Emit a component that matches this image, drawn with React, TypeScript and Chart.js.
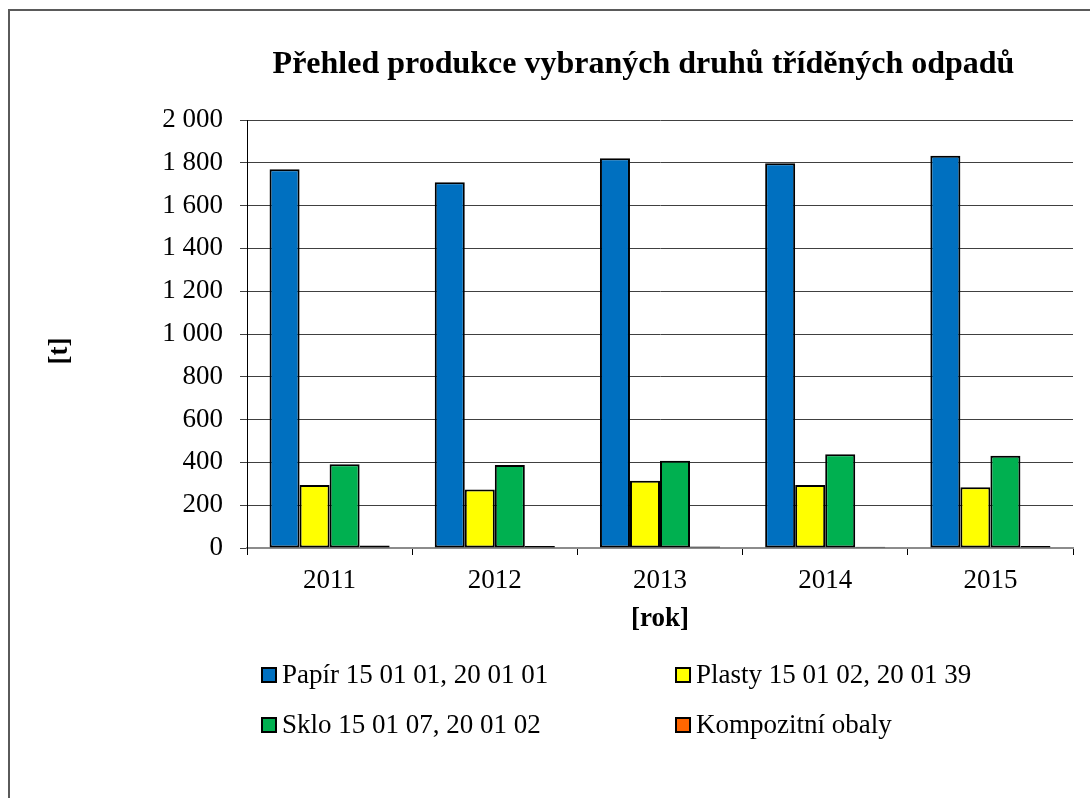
import React, { useEffect, useRef } from 'react';
import { Chart, registerables } from 'chart.js';

Chart.register(...registerables);

const years = ['2011', '2012', '2013', '2014', '2015'];
const papir = [1770, 1709, 1821, 1798, 1833];
const plasty = [294, 273, 314, 294, 284];
const sklo = [391, 388, 408, 438, 431];
const kompozit = [12, 9, 7, 6, 9];

const seriesLabels = [
  'Papír 15 01 01, 20 01 01',
  'Plasty 15 01 02, 20 01 39',
  'Sklo 15 01 07, 20 01 02',
  'Kompozitní obaly',
];
const seriesColors = ['#0070C0', '#FFFF00', '#00B050', '#FF6600'];

const titleText = 'Přehled produkce vybraných druhů tříděných odpadů';
const yTitle = '[t]';
const xTitle = '[rok]';

const FONT = '"Liberation Serif", "Times New Roman", serif';

const formatThousands = (v: number) => {
  if (v >= 1000) {
    return `${Math.floor(v / 1000)} ${String(v % 1000).padStart(3, '0')}`;
  }
  return String(v);
};

const decorPlugin = {
  id: 'decor',
  afterDraw(chart: any) {
    const ctx = chart.ctx as CanvasRenderingContext2D;
    const ca = chart.chartArea;
    ctx.save();
    // outer frame
    ctx.strokeStyle = '#5a5a5a';
    ctx.lineWidth = 2;
    ctx.beginPath();
    ctx.moveTo(9, 800);
    ctx.lineTo(9, 10);
    ctx.lineTo(1092, 10);
    ctx.stroke();

    ctx.fillStyle = '#000';
    ctx.textAlign = 'center';
    ctx.textBaseline = 'alphabetic';
    ctx.font = `bold 32px ${FONT}`;
    ctx.fillText(titleText, 643.5, 73);

    ctx.font = `bold 27px ${FONT}`;
    ctx.fillText(xTitle, (ca.left + ca.right) / 2, 626);

    ctx.save();
    ctx.translate(60, 351);
    ctx.rotate(-Math.PI / 2);
    ctx.textBaseline = 'middle';
    ctx.fillText(yTitle, 0, 0);
    ctx.restore();

    // legend (two columns)
    const colX = [262, 676];
    const rowY = [683, 733];
    const order = [0, 1, 2, 3];
    ctx.font = `27px ${FONT}`;
    ctx.textAlign = 'left';
    order.forEach((di, i) => {
      const ds = chart.data.datasets[di];
      const x = colX[i % 2];
      const y = rowY[Math.floor(i / 2)];
      ctx.fillStyle = ds.backgroundColor;
      ctx.fillRect(x, y - 15, 14, 14);
      ctx.strokeStyle = '#000';
      ctx.lineWidth = 2;
      ctx.strokeRect(x, y - 15, 14, 14);
      ctx.fillStyle = '#000';
      ctx.fillText(ds.label, x + 20, y);
    });
    ctx.restore();
  },
};

export default function App() {
  const canvasRef = useRef<HTMLCanvasElement | null>(null);

  useEffect(() => {
    if (!canvasRef.current) return;
    const seriesData = [papir, plasty, sklo, kompozit];
    const chart = new Chart(canvasRef.current, {
      type: 'bar',
      data: {
        labels: years,
        datasets: seriesData.map((d, i) => ({
          label: seriesLabels[i],
          data: d,
          backgroundColor: seriesColors[i],
          borderColor: '#000',
          borderWidth: 2,
          borderSkipped: false,
          barPercentage: 1,
          categoryPercentage: 0.727,
        })),
      },
      options: {
        animation: false,
        responsive: false,
        events: [],
        layout: { padding: { left: 0, right: 17, top: 120, bottom: 200 } },
        plugins: {
          legend: { display: false },
          title: { display: false },
          tooltip: { enabled: false },
        },
        scales: {
          x: {
            grid: {
              offset: true,
              drawOnChartArea: false,
              drawTicks: true,
              tickLength: 7,
              color: '#000',
            },
            border: { color: '#8c8c8c', width: 2 },
            ticks: {
              font: { family: FONT, size: 27 },
              color: '#000',
              padding: 10,
              maxRotation: 0,
            },
            afterFit: (s: any) => {
              s.height = 50;
            },
          },
          y: {
            min: 0,
            max: 2000,
            ticks: {
              stepSize: 200,
              font: { family: FONT, size: 27 },
              color: '#000',
              padding: 17,
              callback: (v: any) => formatThousands(Number(v)),
            },
            grid: { color: '#404040', tickLength: 7, lineWidth: 1 },
            border: { color: '#000', width: 1 },
            afterFit: (s: any) => {
              s.width = 247;
            },
          },
        },
      },
      plugins: [decorPlugin],
    });
    return () => chart.destroy();
  }, []);

  return (
    <div style={{ position: 'fixed', left: 0, top: 0, width: 1090, height: 798, background: '#fff' }}>
      <canvas ref={canvasRef} width={1090} height={798} style={{ display: 'block' }} />
    </div>
  );
}
